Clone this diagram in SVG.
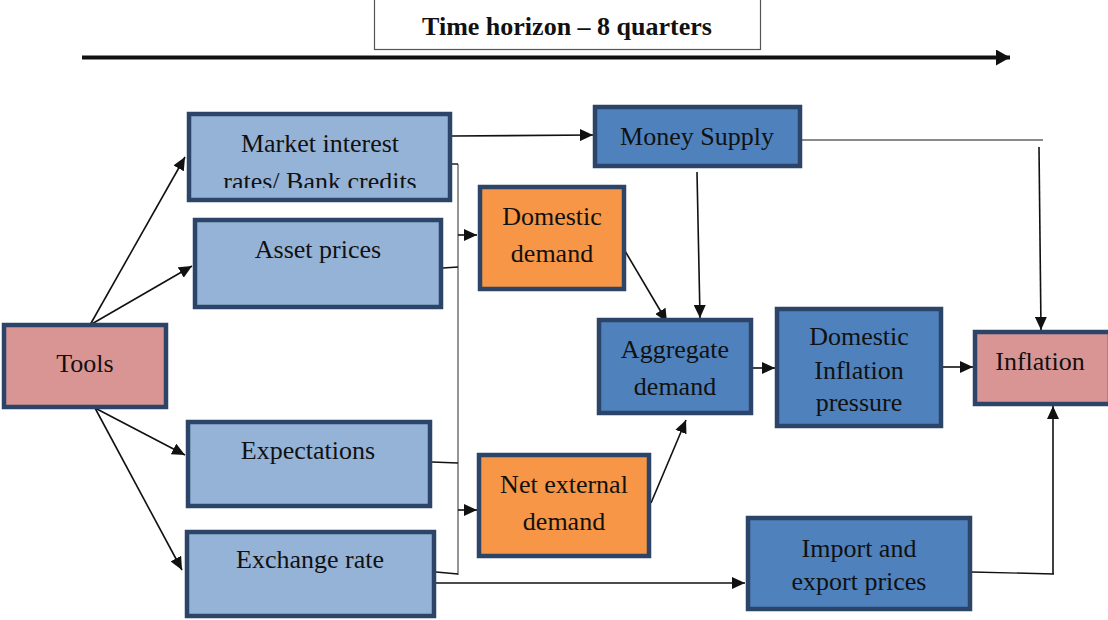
<svg xmlns="http://www.w3.org/2000/svg" width="1108" height="620" viewBox="0 0 1108 620">
  <style>
    .node { stroke: #2b4468; stroke-width: 4.5; }
    .light { fill: #95b3d7; }
    .mid { fill: #4f81bd; }
    .orange { fill: #f79646; }
    .pink { fill: #d99594; }
    text { font-family: "Liberation Serif", "Times New Roman", serif; font-size: 26px; fill: #111; text-anchor: middle; }
    .title { font-weight: bold; font-size: 26px; }
    .arrow { stroke: #111; stroke-width: 1.6; fill: none; marker-end: url(#head); }
    .line { stroke: #111; stroke-width: 1.4; fill: none; }
    .gray { stroke: #8a8a8a; stroke-width: 1.8; fill: none; }
  </style>
  <defs>
    <marker id="head" viewBox="0 0 10 10" refX="10" refY="5" markerWidth="13" markerHeight="12" markerUnits="userSpaceOnUse" orient="auto" preserveAspectRatio="none">
      <path d="M0,0 L10,5 L0,10 z" fill="#111"/>
    </marker>
    <marker id="bighead" viewBox="0 0 10 10" refX="10" refY="5" markerWidth="14" markerHeight="16" markerUnits="userSpaceOnUse" orient="auto" preserveAspectRatio="none">
      <path d="M0,0 L10,5 L0,10 z" fill="#111"/>
    </marker>
    <clipPath id="clipMarket"><rect x="187" y="112" width="265" height="76"/></clipPath>
  </defs>

  <rect width="1108" height="620" fill="#ffffff"/>

  <!-- time axis -->
  <g id="timeline">
    <rect x="374.5" y="-2" width="386" height="51.5" fill="#fff" stroke="#555" stroke-width="1.2"/>
    <text class="title" x="567" y="35">Time horizon – 8 quarters</text>
    <line x1="82" y1="57.5" x2="1010" y2="57.5" stroke="#111" stroke-width="4" marker-end="url(#bighead)"/>
  </g>

  <!-- connectors -->
  <g id="connectors">
    <line class="arrow" x1="90" y1="325" x2="185" y2="157"/>
    <line class="arrow" x1="90" y1="325" x2="192" y2="266"/>
    <line class="arrow" x1="95" y1="408" x2="185" y2="455"/>
    <line class="arrow" x1="95" y1="408" x2="182" y2="570"/>

    <line class="arrow" x1="452" y1="136" x2="593" y2="135"/>

    <!-- shared channel into the demand boxes -->
    <line class="gray" x1="458" y1="164" x2="458" y2="575"/>
    <line class="line" x1="452" y1="164" x2="458" y2="164"/>
    <line class="line" x1="443" y1="268" x2="458" y2="267"/>
    <line class="line" x1="432" y1="462" x2="458" y2="463"/>
    <line class="line" x1="436" y1="572" x2="458" y2="574"/>
    <line class="arrow" x1="458" y1="235" x2="477" y2="235"/>
    <line class="arrow" x1="458" y1="510" x2="477" y2="510"/>

    <line class="arrow" x1="436" y1="583" x2="745" y2="583"/>

    <line class="arrow" x1="625" y1="251" x2="667" y2="322"/>
    <line class="arrow" x1="651" y1="503" x2="686" y2="420"/>
    <line class="arrow" x1="697" y1="172" x2="700" y2="318"/>

    <line class="gray" x1="802" y1="140" x2="1043" y2="140"/>
    <line class="arrow" x1="1039" y1="147" x2="1041" y2="330"/>

    <line class="arrow" x1="753" y1="368" x2="775" y2="368"/>
    <line class="arrow" x1="943" y1="367" x2="973" y2="367"/>

    <polyline class="line" points="972,572 1054,574"/>
    <line class="arrow" x1="1053" y1="574" x2="1053" y2="406"/>
  </g>

  <g id="tools">
    <rect class="node pink" x="4" y="325" width="162" height="82"/>
    <text x="85" y="372">Tools</text>
  </g>

  <g id="market-rates">
    <rect class="node light" x="189" y="114" width="261" height="86"/>
    <text x="320" y="152">Market interest</text>
    <text x="320" y="190" clip-path="url(#clipMarket)">rates/ Bank credits</text>
  </g>

  <g id="asset-prices">
    <rect class="node light" x="195" y="220" width="246" height="87"/>
    <text x="318" y="258">Asset prices</text>
  </g>

  <g id="expectations">
    <rect class="node light" x="188" y="422" width="242" height="84"/>
    <text x="308" y="459">Expectations</text>
  </g>

  <g id="exchange-rate">
    <rect class="node light" x="187" y="532" width="247" height="84"/>
    <text x="310" y="568">Exchange rate</text>
  </g>

  <g id="domestic-demand">
    <rect class="node orange" x="480" y="187" width="144" height="102"/>
    <text x="552" y="225">Domestic</text>
    <text x="552" y="262">demand</text>
  </g>

  <g id="net-external-demand">
    <rect class="node orange" x="479" y="455" width="170" height="101"/>
    <text x="564" y="493">Net external</text>
    <text x="564" y="530">demand</text>
  </g>

  <g id="money-supply">
    <rect class="node mid" x="595" y="107" width="205" height="59"/>
    <text x="697" y="145">Money Supply</text>
  </g>

  <g id="aggregate-demand">
    <rect class="node mid" x="599" y="320" width="152" height="93"/>
    <text x="675" y="358">Aggregate</text>
    <text x="675" y="395">demand</text>
  </g>

  <g id="domestic-inflation-pressure">
    <rect class="node mid" x="777" y="309" width="164" height="117"/>
    <text x="859" y="345">Domestic</text>
    <text x="859" y="379">Inflation</text>
    <text x="859" y="411">pressure</text>
  </g>

  <g id="inflation">
    <rect class="node pink" x="975" y="332" width="135" height="72"/>
    <text x="1040" y="370">Inflation</text>
  </g>

  <g id="import-export-prices">
    <rect class="node mid" x="748" y="518" width="222" height="91"/>
    <text x="859" y="557">Import and</text>
    <text x="859" y="590">export prices</text>
  </g>
</svg>
